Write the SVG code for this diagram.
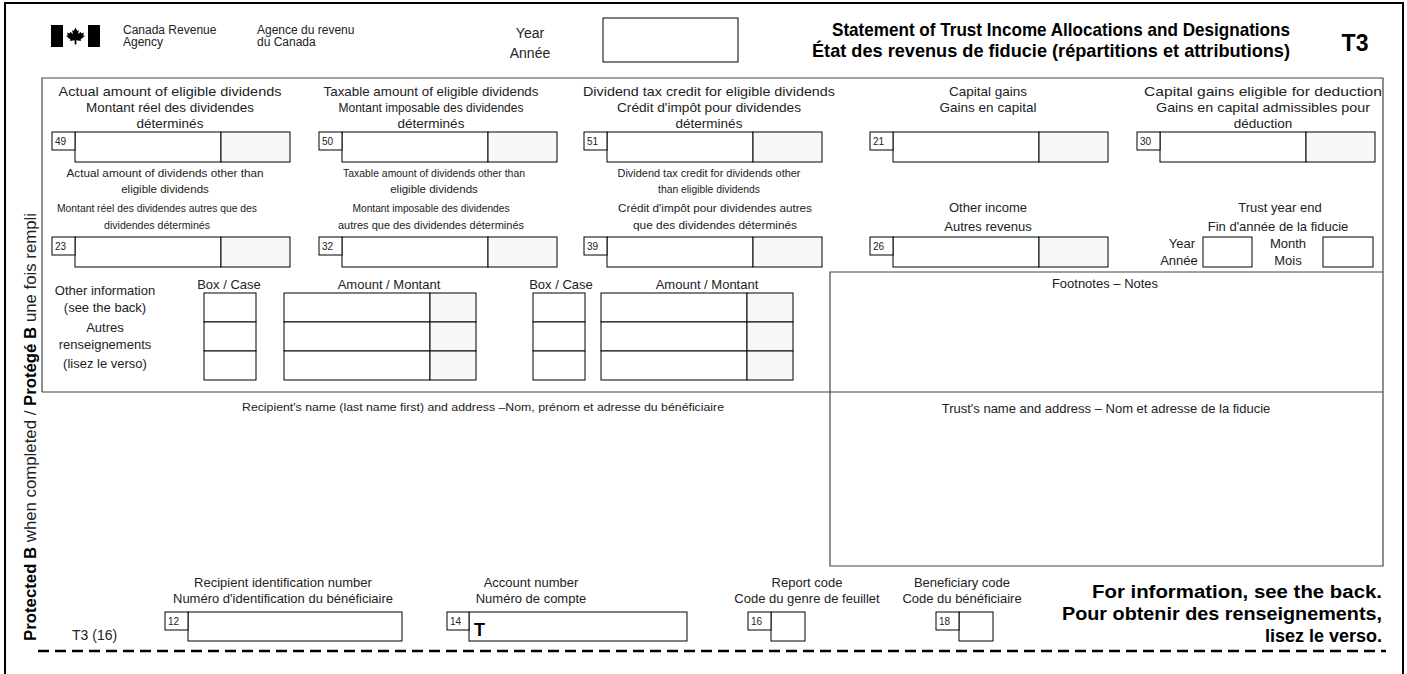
<svg xmlns="http://www.w3.org/2000/svg" width="1407" height="674" viewBox="0 0 1407 674">
<style>
text { font-family: "Liberation Sans", Arial, sans-serif; fill: #222; }
.l1 { font-size: 13.5px; text-anchor: middle; }
.l2 { font-size: 11.5px; text-anchor: middle; }
.lb { font-size: 13px; text-anchor: middle; }
.num { font-size: 10px; }
.b { font-weight: bold; fill: #000; }
.box { fill: #fff; stroke: #000; stroke-width: 1; }
.cents { fill: #f8f8f8; stroke: #000; stroke-width: 1; }
.frame { fill: none; stroke: #000; stroke-width: 2; }
.inner { fill: none; stroke: #444; stroke-width: 1.2; }
.dash { fill: none; stroke: #000; stroke-width: 2.5; stroke-dasharray: 11 6; }
</style>
<defs>
<g id="amtBox">
<rect class="box" x="23" y="0" width="146" height="30"/>
<rect class="cents" x="169" y="0" width="69" height="30"/>
<rect class="box" x="0" y="0" width="23" height="18"/>
</g>
<g id="smallBox">
<rect class="box" x="23" y="0" width="34" height="29"/>
<rect class="box" x="0" y="0" width="23" height="18"/>
</g>
<g id="infoBox">
<rect class="box" x="0" y="293" width="52" height="29"/>
<rect class="box" x="0" y="322" width="52" height="29"/>
<rect class="box" x="0" y="351" width="52" height="29"/>
</g>
<g id="infoAmt">
<rect class="box" x="0" y="293" width="146" height="29"/>
<rect class="box" x="0" y="322" width="146" height="29"/>
<rect class="box" x="0" y="351" width="146" height="29"/>
<rect class="cents" x="146" y="293" width="46" height="29"/>
<rect class="cents" x="146" y="322" width="46" height="29"/>
<rect class="cents" x="146" y="351" width="46" height="29"/>
</g>
</defs>

<g id="frame">
<path class="frame" d="M5,674 V3 H1403 V674"/>
<path class="inner" d="M42,392 V78 H1383 V566 H830 V272 H1383"/>
<path class="inner" d="M42,392 H1383"/>
<path class="dash" d="M38,651 H1386"/>
</g>

<g id="protected">
<text transform="translate(36,641) rotate(-90)" font-size="16" textLength="428" lengthAdjust="spacingAndGlyphs"><tspan class="b">Protected B</tspan> when completed / <tspan class="b">Protégé B</tspan> une fois rempli</text>
</g>

<g id="header">
<rect x="51" y="25" width="12" height="22" fill="#000"/>
<rect x="88" y="25" width="12" height="22" fill="#000"/>
<polygon fill="#000" transform="translate(75.5,36) scale(0.85) translate(-76,-36)" points="76,26 78,30 80,29 79,34 82,31 83,33 86,32 85,35 87,36 82,40 82.5,42 77,41 77,46 75,46 75,41 69.5,42 70,40 65,36 67,35 66,32 69,33 70,31 73,34 72,29 74,30"/>
<text x="123" y="34" font-size="12">Canada Revenue</text>
<text x="123" y="46" font-size="12">Agency</text>
<text x="257" y="34" font-size="12">Agence du revenu</text>
<text x="257" y="46" font-size="12">du Canada</text>
<text x="530" y="38" font-size="14" text-anchor="middle">Year</text>
<text x="530" y="58" font-size="14" text-anchor="middle">Année</text>
<rect class="box" x="603" y="18" width="135" height="44"/>
<text class="b" x="1290" y="36" font-size="19" text-anchor="end" textLength="458" lengthAdjust="spacingAndGlyphs">Statement of Trust Income Allocations and Designations</text>
<text class="b" x="1290" y="57" font-size="19" text-anchor="end" textLength="478" lengthAdjust="spacingAndGlyphs">État des revenus de fiducie (répartitions et attributions)</text>
<text class="b" x="1355" y="51" font-size="23" text-anchor="middle">T3</text>
</g>

<g id="box49">
<text class="l1" x="170" y="96" textLength="223" lengthAdjust="spacingAndGlyphs">Actual amount of eligible dividends</text>
<text class="l1" x="170" y="112" textLength="168" lengthAdjust="spacingAndGlyphs">Montant réel des dividendes</text>
<text class="l1" x="170" y="128">déterminés</text>
<use href="#amtBox" x="52" y="132"/>
<text class="num" x="55" y="145">49</text>
</g>
<g id="box50">
<text class="l1" x="431" y="96" textLength="215" lengthAdjust="spacingAndGlyphs">Taxable amount of eligible dividends</text>
<text class="l1" x="431" y="112" textLength="185" lengthAdjust="spacingAndGlyphs">Montant imposable des dividendes</text>
<text class="l1" x="431" y="128">déterminés</text>
<use href="#amtBox" x="319" y="132"/>
<text class="num" x="322" y="145">50</text>
</g>
<g id="box51">
<text class="l1" x="709" y="96" textLength="252" lengthAdjust="spacingAndGlyphs">Dividend tax credit for eligible dividends</text>
<text class="l1" x="709" y="112" textLength="184" lengthAdjust="spacingAndGlyphs">Crédit d'impôt pour dividendes</text>
<text class="l1" x="709" y="128">déterminés</text>
<use href="#amtBox" x="584" y="132"/>
<text class="num" x="587" y="145">51</text>
</g>
<g id="box21">
<text class="l1" x="988" y="96">Capital gains</text>
<text class="l1" x="988" y="112">Gains en capital</text>
<use href="#amtBox" x="870" y="132"/>
<text class="num" x="873" y="145">21</text>
</g>
<g id="box30">
<text class="l1" x="1263" y="96" textLength="238" lengthAdjust="spacingAndGlyphs">Capital gains eligible for deduction</text>
<text class="l1" x="1263" y="112" textLength="214" lengthAdjust="spacingAndGlyphs">Gains en capital admissibles pour</text>
<text class="l1" x="1263" y="128">déduction</text>
<use href="#amtBox" x="1137" y="132"/>
<text class="num" x="1140" y="145">30</text>
</g>

<g id="box23">
<text class="l2" x="165" y="177" textLength="197" lengthAdjust="spacingAndGlyphs">Actual amount of dividends other than</text>
<text class="l2" x="165" y="193">eligible dividends</text>
<text class="l2" x="157" y="212" textLength="200" lengthAdjust="spacingAndGlyphs">Montant réel des dividendes autres que des</text>
<text class="l2" x="157" y="229" textLength="106" lengthAdjust="spacingAndGlyphs">dividendes déterminés</text>
<use href="#amtBox" x="52" y="237"/>
<text class="num" x="55" y="250">23</text>
</g>
<g id="box32">
<text class="l2" x="434" y="177" textLength="182" lengthAdjust="spacingAndGlyphs">Taxable amount of dividends other than</text>
<text class="l2" x="434" y="193">eligible dividends</text>
<text class="l2" x="431" y="212" textLength="157" lengthAdjust="spacingAndGlyphs">Montant imposable des dividendes</text>
<text class="l2" x="431" y="229" textLength="186" lengthAdjust="spacingAndGlyphs">autres que des dividendes déterminés</text>
<use href="#amtBox" x="319" y="237"/>
<text class="num" x="322" y="250">32</text>
</g>
<g id="box39">
<text class="l2" x="709" y="177" textLength="183" lengthAdjust="spacingAndGlyphs">Dividend tax credit for dividends other</text>
<text class="l2" x="709" y="193" textLength="102" lengthAdjust="spacingAndGlyphs">than eligible dividends</text>
<text class="l2" x="715" y="212" textLength="194" lengthAdjust="spacingAndGlyphs">Crédit d'impôt pour dividendes autres</text>
<text class="l2" x="715" y="229" textLength="164" lengthAdjust="spacingAndGlyphs">que des dividendes déterminés</text>
<use href="#amtBox" x="584" y="237"/>
<text class="num" x="587" y="250">39</text>
</g>
<g id="box26">
<text class="lb" x="988" y="212">Other income</text>
<text class="lb" x="988" y="231">Autres revenus</text>
<use href="#amtBox" x="870" y="237"/>
<text class="num" x="873" y="250">26</text>
</g>
<g id="trustYearEnd">
<text class="lb" x="1280" y="212">Trust year end</text>
<text class="lb" x="1278" y="231">Fin d'année de la fiducie</text>
<text class="lb" x="1182" y="248">Year</text>
<text class="lb" x="1179" y="265">Année</text>
<rect class="box" x="1203" y="237" width="49" height="30"/>
<text class="lb" x="1288" y="248">Month</text>
<text class="lb" x="1288" y="265">Mois</text>
<rect class="box" x="1323" y="237" width="50" height="30"/>
</g>

<g id="otherInfo">
<text class="lb" x="105" y="295">Other information</text>
<text class="lb" x="105" y="312">(see the back)</text>
<text class="lb" x="105" y="332">Autres</text>
<text class="lb" x="105" y="349">renseignements</text>
<text class="lb" x="105" y="368">(lisez le verso)</text>
<text class="lb" x="229" y="289">Box / Case</text>
<text class="lb" x="389" y="289">Amount / Montant</text>
<text class="lb" x="561" y="289">Box / Case</text>
<text class="lb" x="707" y="289">Amount / Montant</text>
<use href="#infoBox" x="204" y="0"/>
<use href="#infoAmt" x="284" y="0"/>
<use href="#infoBox" x="533" y="0"/>
<use href="#infoAmt" x="601" y="0"/>
</g>

<g id="footnotes">
<text class="lb" x="1105" y="288">Footnotes – Notes</text>
</g>
<g id="recipient">
<text class="l2" x="483" y="411" textLength="482" lengthAdjust="spacingAndGlyphs">Recipient's name (last name first) and address –Nom, prénom et adresse du bénéficiaire</text>
</g>
<g id="trust">
<text class="lb" x="1106" y="413">Trust's name and address – Nom et adresse de la fiducie</text>
</g>

<g id="box12">
<text class="lb" x="283" y="587">Recipient identification number</text>
<text class="lb" x="283" y="603">Numéro d'identification du bénéficiaire</text>
<rect class="box" x="188" y="612" width="214" height="29"/>
<rect class="box" x="165" y="612" width="23" height="18"/>
<text class="num" x="168" y="625">12</text>
</g>
<g id="box14">
<text class="lb" x="531" y="587">Account number</text>
<text class="lb" x="531" y="603">Numéro de compte</text>
<rect class="box" x="469" y="612" width="218" height="29"/>
<rect class="box" x="447" y="612" width="22" height="18"/>
<text class="num" x="450" y="625">14</text>
<text class="b" x="474" y="636" font-size="18">T</text>
</g>
<g id="box16">
<text class="lb" x="807" y="587">Report code</text>
<text class="lb" x="807" y="603">Code du genre de feuillet</text>
<use href="#smallBox" x="748" y="612"/>
<text class="num" x="751" y="625">16</text>
</g>
<g id="box18">
<text class="lb" x="962" y="587">Beneficiary code</text>
<text class="lb" x="962" y="603">Code du bénéficiaire</text>
<use href="#smallBox" x="936" y="612"/>
<text class="num" x="939" y="625">18</text>
</g>
<g id="info">
<text class="b" x="1382" y="598" font-size="18" text-anchor="end" textLength="290" lengthAdjust="spacingAndGlyphs">For information, see the back.</text>
<text class="b" x="1382" y="620" font-size="18" text-anchor="end" textLength="320" lengthAdjust="spacingAndGlyphs">Pour obtenir des renseignements,</text>
<text class="b" x="1382" y="642" font-size="18" text-anchor="end">lisez le verso.</text>
<text x="72" y="640" font-size="14">T3 (16)</text>
</g>
</svg>
